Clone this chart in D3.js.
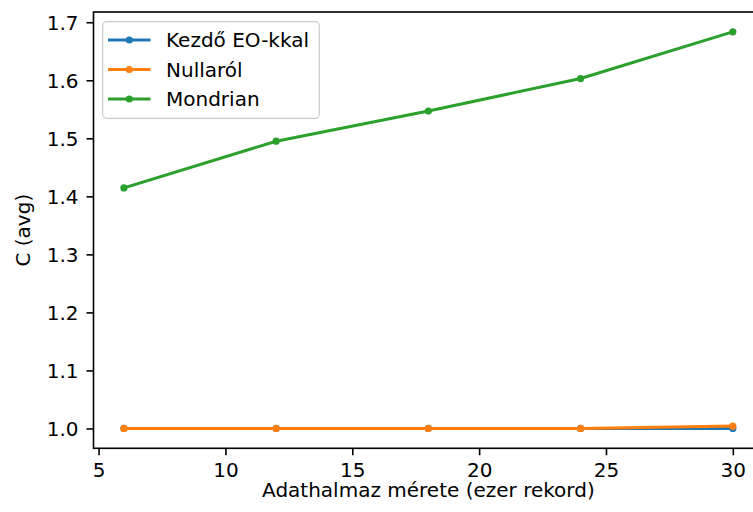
<!DOCTYPE html>
<html>
<head>
<meta charset="utf-8">
<script src="https://cdn.jsdelivr.net/npm/d3@7"></script>
<style>
  html, body { margin: 0; padding: 0; background: #fff; }
  svg { display: block; font-family: "DejaVu Sans", sans-serif; }
</style>
</head>
<body>
<svg id="chart" width="753" height="512"></svg>
<script>
// Dataset sizes (thousand records)
const sizes = [6, 12, 18, 24, 30];

// Average C for each method
const kezdoEO = [1.0, 1.0, 1.0, 1.0, 1.0];
const nullarol = [1.0, 1.0, 1.0, 1.0, 1.004];
const mondrian = [1.4145, 1.495, 1.547, 1.603, 1.6835];

const seriesNames = ["Kezdő EO-kkal", "Nullaról", "Mondrian"];
const seriesColors = ["#1f77b4", "#ff7f0e", "#2ca02c"];

const xTicks = [5, 10, 15, 20, 25, 30];
const yTicks = [1.0, 1.1, 1.2, 1.3, 1.4, 1.5, 1.6, 1.7];

const xLabel = "Adathalmaz mérete (ezer rekord)";
const yLabel = "C (avg)";

const series = seriesNames.map((name, i) => ({
  name,
  color: seriesColors[i],
  values: [kezdoEO, nullarol, mondrian][i]
}));

const svg = d3.select("#chart");
const fontSize = 20;

// Axes box
const plotLeft = 93.5, plotTop = 12, plotBottom = 448.3;
const pxPerUnit = 25.37;

// Data limits with a 5% margin on each side
const xmin = d3.min(sizes), xmax = d3.max(sizes);
const xpad = (xmax - xmin) * 0.05;
const allY = [].concat(kezdoEO, nullarol, mondrian);
const ymin = d3.min(allY), ymax = d3.max(allY);
const ypad = (ymax - ymin) * 0.05;

const xDomain = [xmin - xpad, xmax + xpad];
const plotRight = plotLeft + (xDomain[1] - xDomain[0]) * pxPerUnit;

const x = d3.scaleLinear().domain(xDomain).range([plotLeft, plotRight]);
const y = d3.scaleLinear().domain([ymin - ypad, ymax + ypad]).range([plotBottom, plotTop]);

const tickLen = 7;

// X axis
const xAxis = d3.axisBottom(x).tickValues(xTicks).tickFormat(d3.format("d"))
  .tickSize(tickLen).tickPadding(7);
const gx = svg.append("g").attr("transform", `translate(0,${plotBottom})`).call(xAxis);
gx.select(".domain").remove();
gx.selectAll(".tick line").attr("stroke", "#000").attr("stroke-width", 1.6);
gx.selectAll(".tick text")
  .attr("font-size", fontSize).attr("fill", "#000")
  .attr("font-family", "DejaVu Sans")
  .attr("dy", null).attr("y", 477 - plotBottom);

// Y axis
const yAxis = d3.axisLeft(y).tickValues(yTicks).tickFormat(d3.format(".1f"))
  .tickSize(tickLen).tickPadding(7);
const gy = svg.append("g").attr("transform", `translate(${plotLeft},0)`).call(yAxis);
gy.select(".domain").remove();
gy.selectAll(".tick line").attr("stroke", "#000").attr("stroke-width", 1.6);
gy.selectAll(".tick text")
  .attr("font-size", fontSize).attr("fill", "#000")
  .attr("font-family", "DejaVu Sans")
  .attr("x", -15).attr("dy", "0.365em");

// Lines and point markers
const line = d3.line().x((d, i) => x(sizes[i])).y(d => y(d));
const plot = svg.append("g");
series.forEach(s => {
  plot.append("path")
    .attr("d", line(s.values))
    .attr("fill", "none")
    .attr("stroke", s.color)
    .attr("stroke-width", 3)
    .attr("stroke-linejoin", "round")
    .attr("stroke-linecap", "square");
  plot.selectAll(null).data(s.values).enter().append("circle")
    .attr("cx", (d, i) => x(sizes[i]))
    .attr("cy", d => y(d))
    .attr("r", 3.6)
    .attr("fill", s.color);
});

// Spines
svg.append("rect")
  .attr("x", plotLeft).attr("y", plotTop)
  .attr("width", plotRight - plotLeft).attr("height", plotBottom - plotTop)
  .attr("fill", "none").attr("stroke", "#000").attr("stroke-width", 1.6);

// Axis labels
svg.append("text")
  .attr("x", (plotLeft + plotRight) / 2).attr("y", 497)
  .attr("text-anchor", "middle")
  .attr("font-size", fontSize).attr("fill", "#000")
  .text(xLabel);

svg.append("text")
  .attr("transform", `translate(29.5,${(plotTop + plotBottom) / 2}) rotate(-90)`)
  .attr("text-anchor", "middle")
  .attr("font-size", fontSize).attr("fill", "#000")
  .text(yLabel);

// Legend
const legend = svg.append("g");
legend.append("rect")
  .attr("x", 102.7).attr("y", 21.7)
  .attr("width", 216.6).attr("height", 96.6)
  .attr("rx", 4).attr("ry", 4)
  .attr("fill", "rgba(255,255,255,0.8)")
  .attr("stroke", "#cccccc").attr("stroke-width", 1.2);

const rowY = [40, 69.5, 99];
series.forEach((s, i) => {
  const g = legend.append("g").attr("transform", `translate(0,${rowY[i]})`);
  g.append("line")
    .attr("x1", 108).attr("x2", 150.5)
    .attr("y1", 0).attr("y2", 0)
    .attr("stroke", s.color).attr("stroke-width", 3);
  g.append("circle").attr("cx", 129.3).attr("cy", 0).attr("r", 3.6).attr("fill", s.color);
  g.append("text")
    .attr("x", 166).attr("y", 7.3)
    .attr("font-size", fontSize).attr("fill", "#000")
    .text(s.name);
});
</script>
</body>
</html>
